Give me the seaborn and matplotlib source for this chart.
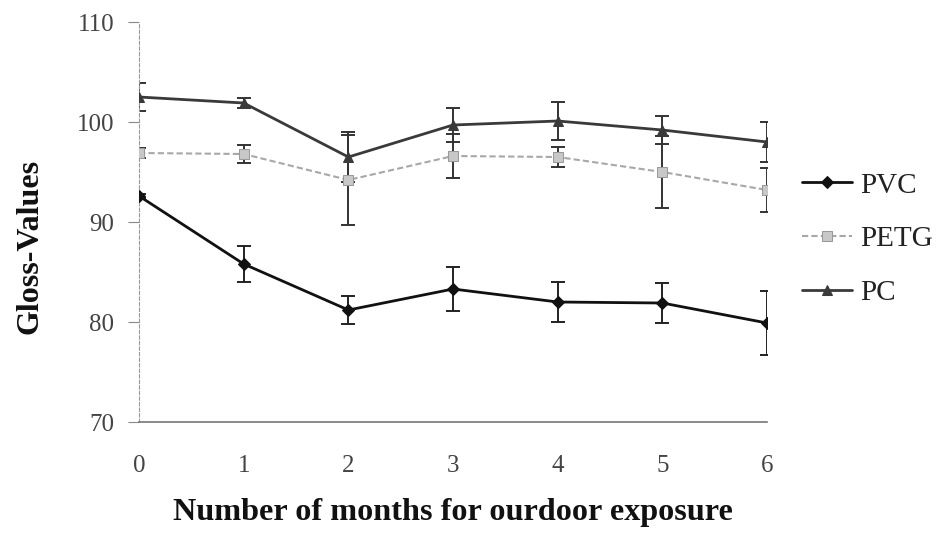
import matplotlib
matplotlib.use("Agg")
import matplotlib.pyplot as plt
import seaborn as sns
import pandas as pd

# Gloss measurements over outdoor exposure time (mean and standard deviation)
months = [0, 1, 2, 3, 4, 5, 6]
pvc_mean = [92.6, 85.8, 81.2, 83.3, 82.0, 81.9, 79.9]
pvc_sd = [0.2, 1.8, 1.4, 2.2, 2.0, 2.0, 3.2]
petg_mean = [96.9, 96.8, 94.2, 96.6, 96.5, 95.0, 93.2]
petg_sd = [0.5, 0.9, 4.5, 2.2, 1.0, 3.6, 2.2]
pc_mean = [102.5, 101.9, 96.5, 99.7, 100.1, 99.2, 98.0]
pc_sd = [1.4, 0.5, 2.5, 1.7, 1.9, 1.4, 2.0]
series_names = ["PVC", "PETG", "PC"]
y_ticks = [70, 80, 90, 100, 110]

sns.set_theme(style="white")
plt.rcParams["font.family"] = ["Liberation Serif", "DejaVu Serif"]

fig = plt.figure(figsize=(9.42, 5.38), dpi=100)
ax = fig.add_axes([0.1476, 0.2156, 0.6667, 0.7435])

styles = {
    "PVC": dict(color="#111111", marker="D", ms=6, mfc="#111111", mec="#111111", ls="-", lw=2.0),
    "PETG": dict(color="#a8a8a8", marker="s", ms=7, mfc="#c8c8c8", mec="#9a9a9a", ls=(0, (3, 1.5)), lw=1.5),
    "PC": dict(color="#3a3a3a", marker="^", ms=7, mfc="#3a3a3a", mec="#3a3a3a", ls="-", lw=2.0),
}
bar_colors = {"PVC": "#222222", "PETG": "#333333", "PC": "#333333"}

means = {"PVC": pvc_mean, "PETG": petg_mean, "PC": pc_mean}
sds = {"PVC": pvc_sd, "PETG": petg_sd, "PC": pc_sd}

for name in series_names:
    df = pd.DataFrame({"month": months, "gloss": means[name]})
    st = styles[name]
    ax.errorbar(months, means[name], yerr=sds[name], fmt="none",
                ecolor=bar_colors[name], elinewidth=1.4, capsize=5, capthick=1.4, zorder=2)
    sns.lineplot(data=df, x="month", y="gloss", ax=ax, label=name,
                 color=st["color"], linestyle=st["ls"], linewidth=st["lw"],
                 marker=st["marker"], markersize=st["ms"],
                 markerfacecolor=st["mfc"], markeredgecolor=st["mec"], zorder=3)

ax.set_xlim(0, 6)
ax.set_ylim(70, 110)
ax.set_yticks(y_ticks)
ax.set_xticks(months)
ax.tick_params(axis="y", which="major", length=8, width=0.8, color="#888888",
               direction="out", labelsize=18, labelcolor="#444444", pad=10, left=True)
ax.tick_params(axis="x", length=0, labelsize=18, labelcolor="#444444", pad=24)

for side in ["top", "right"]:
    ax.spines[side].set_visible(False)
ax.spines["bottom"].set_color("#777777")
ax.spines["bottom"].set_linewidth(1.2)
ax.spines["left"].set_color("#999999")
ax.spines["left"].set_linewidth(0.8)
ax.spines["left"].set_linestyle((0, (3, 2)))

ax.set_xlabel("Number of months for ourdoor exposure", fontsize=23.2,
              fontweight="bold", color="#111111")
ax.xaxis.set_label_coords(0.5, -0.19)
ax.set_ylabel("Gloss-Values", fontsize=23, fontweight="bold", color="#111111")
ax.yaxis.set_label_coords(-0.15, 0.44)

ax.legend(loc="center left", bbox_to_anchor=(1.0557, 0.4575), frameon=False,
          borderpad=0, borderaxespad=0, fontsize=21, handlelength=1.71,
          labelspacing=0.93, handletextpad=0.27, labelcolor="#222222")

fig.savefig("out.png", dpi=100, facecolor="white")
